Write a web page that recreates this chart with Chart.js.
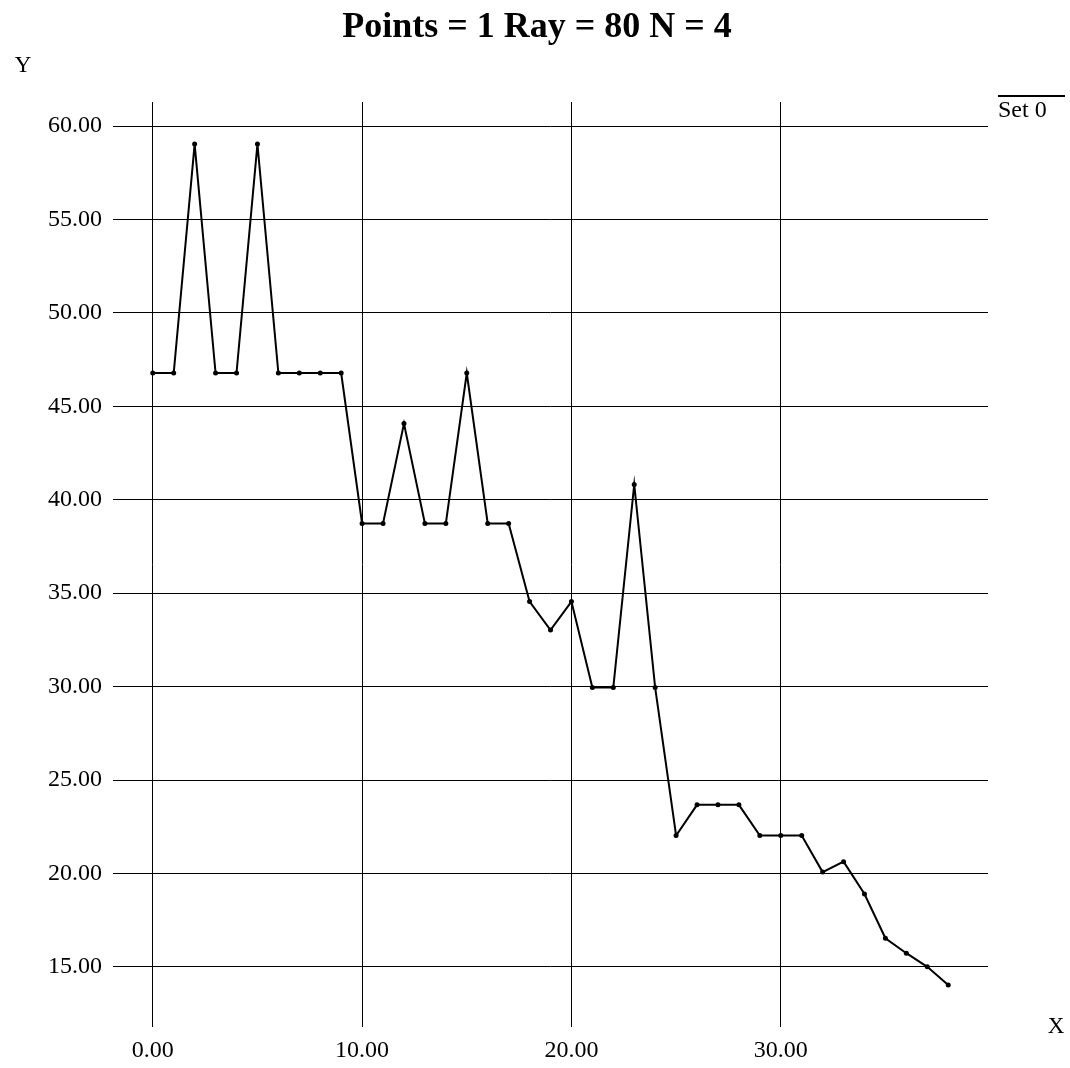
<!DOCTYPE html>
<html>
<head>
<meta charset="utf-8">
<script src="https://cdn.jsdelivr.net/npm/chart.js@4"></script>
<style>
  html, body { margin: 0; padding: 0; background: #fff; }
  #wrap { width: 1070px; height: 1068px; position: relative; }
</style>
</head>
<body>
<div id="wrap"><canvas id="chart"></canvas></div>
<script>
// Series
const xValues = [0, 1, 2, 3, 4, 5, 6, 7, 8, 9, 10, 11, 12, 13, 14, 15, 16, 17, 18, 19,
  20, 21, 22, 23, 24, 25, 26, 27, 28, 29, 30, 31, 32, 33, 34, 35, 36, 37, 38];
const yValues = [46.78, 46.78, 59.04, 46.78, 46.78, 59.04, 46.78, 46.78, 46.78, 46.78,
  38.73, 38.73, 44.08, 38.73, 38.73, 46.78, 38.73, 38.73, 34.55, 33.03,
  34.55, 29.95, 29.95, 40.82, 29.95, 22.03, 23.67, 23.67, 23.67, 22.03,
  22.03, 22.03, 20.07, 20.63, 18.9, 16.53, 15.73, 15.0, 14.03];
const xTicks = [0, 10, 20, 30];
const yTicks = [15, 20, 25, 30, 35, 40, 45, 50, 55, 60];
const titleText = 'Points = 1 Ray = 80 N = 4';
const seriesName = 'Set 0';

const SERIF = '"Liberation Serif", "DejaVu Serif", serif';

// title, axis names and the little legend in the corner
const decorations = {
  id: 'decorations',
  afterDraw(chart) {
    const ctx = chart.ctx;
    ctx.save();
    ctx.fillStyle = '#000';
    ctx.textBaseline = 'alphabetic';

    ctx.font = `bold 36px ${SERIF}`;
    ctx.textAlign = 'center';
    ctx.fillText(titleText, 537, 37);

    ctx.font = `23px ${SERIF}`;
    ctx.fillText('Y', 23, 72);
    ctx.fillText('X', 1056, 1033);

    // legend: line sample above the name
    ctx.font = `24px ${SERIF}`;
    ctx.textAlign = 'left';
    ctx.fillText(seriesName, 998, 117);
    ctx.strokeStyle = '#000';
    ctx.lineWidth = 2;
    ctx.beginPath();
    ctx.moveTo(998, 96);
    ctx.lineTo(1065, 96);
    ctx.stroke();
    ctx.restore();
  }
};

const ctx = document.getElementById('chart').getContext('2d');
new Chart(ctx, {
  type: 'line',
  data: {
    datasets: [{
      label: seriesName,
      data: xValues.map((x, i) => ({ x: x, y: yValues[i] })),
      borderColor: '#000',
      backgroundColor: '#000',
      borderWidth: 2,
      pointRadius: 2.5,
      pointBackgroundColor: '#000',
      pointBorderWidth: 0,
      tension: 0,
      fill: false
    }]
  },
  options: {
    responsive: true,
    maintainAspectRatio: false,
    animation: false,
    layout: { padding: { top: 102, right: 82, left: 0, bottom: 0 } },
    plugins: {
      legend: { display: false },
      title: { display: false },
      tooltip: { enabled: false }
    },
    scales: {
      x: {
        type: 'linear',
        min: -1.9,
        max: 39.9,
        afterBuildTicks: s => { s.ticks = xTicks.map(v => ({ value: v })); },
        afterFit: s => { s.height = 41; },
        grid: { color: '#000', lineWidth: 1, drawTicks: false },
        border: { display: false },
        ticks: {
          color: '#000',
          font: { family: SERIF, size: 24 },
          padding: 9,
          maxRotation: 0,
          callback: v => v.toFixed(2)
        }
      },
      y: {
        type: 'linear',
        min: 11.78,
        max: 61.29,
        afterBuildTicks: s => { s.ticks = yTicks.map(v => ({ value: v })); },
        afterFit: s => { s.width = 113; },
        grid: { color: '#000', lineWidth: 1, drawTicks: false },
        border: { display: false },
        ticks: {
          color: '#000',
          font: { family: SERIF, size: 24 },
          padding: 11,
          callback: v => v.toFixed(2)
        }
      }
    }
  },
  plugins: [decorations]
});
</script>
</body>
</html>
